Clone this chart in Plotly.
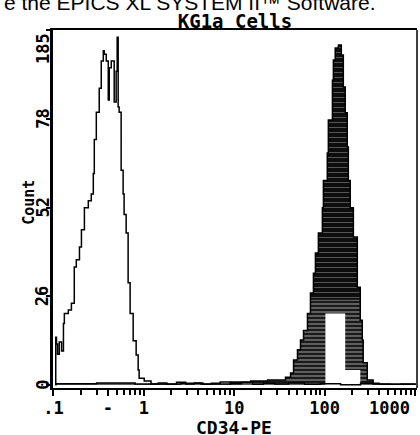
import plotly.graph_objects as go

# ---- data ----
# isotype control (open histogram)
ctrl_x = [0.105, 0.106, 0.108, 0.111, 0.116, 0.123, 0.129, 0.132, 0.146, 0.158, 0.170,
          0.179, 0.194, 0.204, 0.220, 0.243, 0.262, 0.276, 0.283, 0.298, 0.321, 0.338,
          0.356, 0.365, 0.384, 0.404, 0.414, 0.436, 0.470, 0.494, 0.507, 0.520, 0.533,
          0.561, 0.590, 0.605, 0.637, 0.670, 0.705, 0.762, 0.822, 0.865, 0.887, 1.01,
          1.20, 1.44, 1.8, 2.3, 2.9, 3.6, 4.5, 5.6, 7.0, 9.0, 12, 16, 21, 28, 40,
          60, 90, 150, 250, 400, 700, 1000]
ctrl_y = [0, 14, 12, 9, 12.6, 10, 18, 21, 22, 24, 34.6,
          36.7, 40.5, 45.5, 52, 54, 56, 62, 72, 80, 87, 95,
          98, 97, 95, 83.6, 93, 95, 83, 92, 102, 81.5, 80,
          63, 56, 50, 44.6, 30, 21, 13, 8.8, 4.4, 2, 1.2,
          0.3, 0.6, 0.2, 0.8, 0.3, 0.6, 0.2, 0.5, 0.9, 0.4, 0.7, 0.2, 0.5, 0.3, 0.6,
          0.2, 0.4, 0.1, 0.5, 0.2, 0.3, 0.0]

# CD34-PE stained (filled histogram)
cd34_x = [0.105, 0.3, 0.8, 2.57, 4.27, 9.15, 15.2, 23.4, 32.5, 36.9, 42.0, 45.3, 50.1,
          54.1, 58.4, 64.6, 69.7, 75.2, 79.1, 85.3, 94.4, 96.9, 107, 110, 122, 125,
          131, 142, 153, 161, 169, 178, 183, 192, 208, 230, 248, 261, 267, 296,
          344, 531, 1000]
cd34_y = [0.4, 0.6, 0.3, 0.5, 0.3, 0.9, 1.2, 1.5, 1.5, 2.3, 3.5, 7.3, 10.3,
          13.2, 16, 21, 27, 32.8, 38.7, 44.6, 52, 60, 68, 77.7, 89.4, 95.3,
          98.8, 99.7, 96.8, 87.4, 79.8, 69.8, 60, 52, 43.4, 28.7, 19, 13.2, 6.5, 1.5,
          0.3, 0.2, 0.0]

# count below which the scanned shading is lighter
light_level = 25

# unshaded pocket inside the filled histogram
gap_x = [102, 169, 248]
gap_y = [21, 4.4, 0]

x_ticks = [0.1, 0.4, 1, 10, 100, 1000]
x_labels = [".1", "-", "1", "10", "100", "1000" + "&nbsp;" * 5]
y_ticks = [0, 26, 52, 78, 104]
y_labels = ["0", "26", "52", "78", ""]
y_top_label = "185"
y_top_label_at = 98.8   # the scanned top label sits a little below the top tick

MONO = "DejaVu Sans Mono"

lower_y = [min(v, light_level) for v in cd34_y]

fig = go.Figure()
fig.add_trace(go.Scatter(
    x=cd34_x, y=cd34_y, mode="lines", line=dict(color="black", width=0, shape="hv"),
    fill="tozeroy", fillcolor="#0d0d0d",
    fillpattern=dict(shape="-", bgcolor="#0d0d0d", fgcolor="#ffffff", size=5, solidity=0.12),
    showlegend=False, hoverinfo="skip"))
fig.add_trace(go.Scatter(
    x=cd34_x, y=lower_y, mode="lines", line=dict(color="black", width=0, shape="hv"),
    fill="tozeroy", fillcolor="#2a2a2a",
    fillpattern=dict(shape="-", bgcolor="#1a1a1a", fgcolor="#ffffff", size=4, solidity=0.3),
    showlegend=False, hoverinfo="skip"))
fig.add_trace(go.Scatter(
    x=gap_x, y=gap_y, mode="lines", line=dict(color="white", width=0, shape="hv"),
    fill="tozeroy", fillcolor="white", showlegend=False, hoverinfo="skip"))
fig.add_trace(go.Scatter(
    x=cd34_x, y=cd34_y, mode="lines", line=dict(color="black", width=1.5, shape="hv"),
    showlegend=False, hoverinfo="skip"))
fig.add_trace(go.Scatter(
    x=ctrl_x, y=ctrl_y, mode="lines", line=dict(color="black", width=1.5, shape="hv"),
    showlegend=False, hoverinfo="skip"))

# y tick labels (rotated), placed on the y scale
label_font = dict(family=MONO, size=17, weight="bold")
y_label_annots = [
    dict(text=t, xref="paper", yref="y", x=-0.028, y=v, textangle=-90, showarrow=False,
         xanchor="center", yanchor="middle", font=label_font)
    for v, t in zip(y_ticks, y_labels) if t
]
y_label_annots.append(
    dict(text=y_top_label, xref="paper", yref="y", x=-0.028, y=y_top_label_at,
         textangle=-90, showarrow=False, xanchor="center", yanchor="middle",
         font=label_font))

fig.update_layout(
    width=420, height=435,
    margin=dict(l=53, r=3, t=30, b=47, autoexpand=False),
    paper_bgcolor="white", plot_bgcolor="white",
    font=dict(family=MONO, color="black", weight="bold"),
    title=dict(text="KG1a Cells", x=0.5, xref="paper", xanchor="center",
               y=1 - 21 / 435, yref="container", yanchor="middle",
               font=dict(family=MONO, size=19, weight="bold", color="black")),
    xaxis=dict(type="log", range=[-1.005, 3.022], showgrid=False, zeroline=False,
               automargin=False, ticklabeloverflow="allow", ticklabelstandoff=-2,
               showline=True, linecolor="black", linewidth=2, mirror=True,
               tickmode="array", tickvals=x_ticks, ticktext=x_labels,
               ticks="outside", ticklen=6, tickwidth=1.5, tickcolor="black",
               tickfont=label_font,
               minor=dict(ticks="outside", ticklen=5, tickwidth=1.5, tickcolor="black",
                          dtick="D1", showgrid=False)),
    yaxis=dict(range=[-0.88, 104.1], showgrid=False, zeroline=False,
               automargin=False, showticklabels=False,
               showline=True, linecolor="black", linewidth=3,
               tickmode="array", tickvals=y_ticks,
               ticks="outside", ticklen=4, tickwidth=2, tickcolor="black"),
    shapes=[dict(type="line", xref="paper", yref="paper", x0=1, x1=1, y0=0, y1=1,
                 line=dict(color="black", width=1.5))],
    annotations=y_label_annots + [
        dict(text="Count", xref="paper", yref="paper", x=-0.066, y=0.52,
             textangle=-90, showarrow=False, xanchor="center", yanchor="middle",
             font=dict(family=MONO, size=15, weight="bold")),
        dict(text="CD34-PE", xref="paper", yref="paper", x=0.497, y=(388 - 427) / 358,
             showarrow=False, xanchor="center", yanchor="middle",
             font=dict(family=MONO, size=18, weight="bold")),
        dict(text="e the EPICS XL SYSTEM II\u2122 Software.", xref="paper", yref="paper",
             x=-0.14, y=(388 - 16) / 358, xanchor="left", yanchor="bottom", showarrow=False,
             font=dict(family="Liberation Sans", size=21, color="black", weight="normal")),
    ],
)

fig.write_html("out.html", config={"displayModeBar": False},
               post_script="document.body.style.margin='0px';")
